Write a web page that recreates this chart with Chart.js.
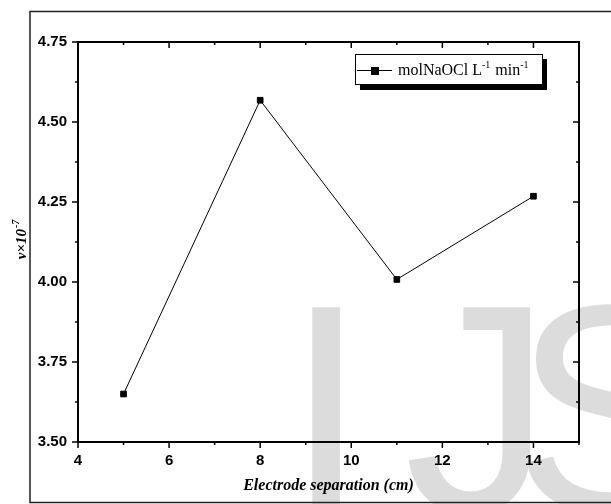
<!DOCTYPE html>
<html>
<head>
<meta charset="utf-8">
<script src="https://cdn.jsdelivr.net/npm/chart.js@4.4.0/dist/chart.umd.min.js"></script>
<style>
  html, body { margin: 0; padding: 0; background: #fff; }
  canvas { display: block; }
</style>
</head>
<body>
<canvas id="rateChart" width="611" height="504"></canvas>
<script>
// data
const separation = [5, 8, 11, 14];
const rate = [3.65, 4.568, 4.008, 4.268];
const xTicks = [4, 6, 8, 10, 12, 14];
const yTicks = [3.5, 3.75, 4.0, 4.25, 4.5, 4.75];
// legend text, [text, superscript?]
const legendParts = [["molNaOCl L", false], ["-1", true], [" min", false], ["-1", true]];
const seriesName = legendParts.map(p => p[0]).join("");

const serif = '"Liberation Serif", "Times New Roman", serif';
const sans = '"Liberation Sans", Arial, sans-serif';

// background, watermark, outer frame
const background = {
  id: "background",
  beforeDraw(chart) {
    const ctx = chart.ctx;
    ctx.save();
    ctx.fillStyle = "#fff";
    ctx.fillRect(0, 0, chart.width, chart.height);
    ctx.fillStyle = "#dcdcdc";
    ctx.font = "296px " + sans;
    ctx.textBaseline = "alphabetic";
    ctx.textAlign = "left";
    ctx.fillText("I", 285, 511);
    ctx.fillText("J", 404, 511);
    ctx.fillText("S", 513, 511);
    ctx.strokeStyle = "#222";
    ctx.lineWidth = 1.5;
    ctx.strokeRect(30, 11.5, 620, 491);
    ctx.restore();
  }
};

// box round the plot, ticks on all four sides, y title, legend
const decorations = {
  id: "decorations",
  afterDraw(chart) {
    const ctx = chart.ctx;
    const a = chart.chartArea;
    const xs = chart.scales.x, ys = chart.scales.y;
    ctx.save();
    ctx.strokeStyle = "#000";
    ctx.lineWidth = 2;
    ctx.strokeRect(a.left, a.top, a.right - a.left, a.bottom - a.top);

    ctx.lineWidth = 1.5;
    ctx.beginPath();
    xTicks.forEach(v => {
      [[v, 6], [v + 1, 3]].forEach(([t, len]) => {
        const px = xs.getPixelForValue(t);
        ctx.moveTo(px, a.bottom); ctx.lineTo(px, a.bottom + len);
        ctx.moveTo(px, a.top); ctx.lineTo(px, a.top + len);
      });
    });
    yTicks.forEach(v => {
      const list = [[v, 6]];
      if (v < ys.max) list.push([v + 0.125, 3]);
      list.forEach(([t, len]) => {
        const py = ys.getPixelForValue(t);
        ctx.moveTo(a.left, py); ctx.lineTo(a.left - len, py);
        ctx.moveTo(a.right, py); ctx.lineTo(a.right - len, py);
      });
    });
    ctx.stroke();

    // y axis title  v×10^-7
    ctx.fillStyle = "#000";
    ctx.translate(26, 240);
    ctx.rotate(-Math.PI / 2);
    ctx.font = "italic bold 15px " + serif;
    const w1 = ctx.measureText("v×10").width;
    ctx.font = "italic bold 10px " + serif;
    const w2 = ctx.measureText("-7").width;
    const start = -(w1 + w2) / 2;
    ctx.font = "italic bold 15px " + serif;
    ctx.fillText("v×10", start, 0);
    ctx.font = "italic bold 10px " + serif;
    ctx.fillText("-7", start + w1 + 1, -7);
    ctx.restore();

    // legend with shadow
    ctx.save();
    const bx = 355, by = 54, bw = 187, bh = 30;
    ctx.fillStyle = "#000";
    ctx.fillRect(bx + 5, by + 5, bw, bh + 1);
    ctx.fillStyle = "#fff";
    ctx.fillRect(bx, by, bw, bh);
    ctx.strokeStyle = "#000";
    ctx.lineWidth = 1;
    ctx.strokeRect(bx + 0.5, by + 0.5, bw, bh);
    ctx.beginPath();
    ctx.moveTo(bx + 2, by + 16.5);
    ctx.lineTo(bx + 37, by + 16.5);
    ctx.stroke();
    ctx.fillStyle = "#000";
    ctx.fillRect(bx + 16, by + 13, 8, 8);
    ctx.textBaseline = "alphabetic";
    let tx = bx + 43;
    legendParts.forEach(([txt, sup]) => {
      ctx.font = (sup ? "10px " : "16px ") + serif;
      ctx.fillText(txt, tx, sup ? by + 14 : by + 21);
      tx += ctx.measureText(txt).width + (sup ? 1 : 0);
    });
    ctx.restore();
  }
};

new Chart(document.getElementById("rateChart"), {
  type: "scatter",
  data: {
    datasets: [{
      label: seriesName,
      data: separation.map((x, i) => ({ x: x, y: rate[i] })),
      showLine: true,
      borderColor: "#000",
      borderWidth: 1,
      pointStyle: "rect",
      pointRadius: 4,
      pointBorderWidth: 1,
      pointBackgroundColor: "#000",
      pointBorderColor: "#000"
    }]
  },
  options: {
    responsive: false,
    animation: false,
    devicePixelRatio: 1,
    layout: { padding: { top: 42, right: 32, left: 0, bottom: 0 } },
    plugins: { legend: { display: false }, tooltip: { enabled: false } },
    scales: {
      x: {
        type: "linear",
        min: 4,
        max: 15,
        grid: { display: false, drawTicks: false },
        border: { display: false },
        afterBuildTicks: s => { s.ticks = xTicks.map(v => ({ value: v })); },
        afterFit: s => { s.height = 62; },
        ticks: {
          color: "#000",
          padding: 10,
          maxRotation: 0,
          font: { family: sans, size: 15, weight: "bold" }
        },
        title: {
          display: true,
          text: "Electrode separation (cm)",
          color: "#000",
          padding: { top: 0, bottom: 9 },
          font: { family: serif, size: 16, style: "italic", weight: "bold" }
        }
      },
      y: {
        min: 3.5,
        max: 4.75,
        grid: { display: false, drawTicks: false },
        border: { display: false },
        afterBuildTicks: s => { s.ticks = yTicks.map(v => ({ value: v })); },
        afterFit: s => { s.width = 78; },
        ticks: {
          color: "#000",
          padding: 11,
          font: { family: sans, size: 15, weight: "bold" },
          callback: v => Number(v).toFixed(2)
        }
      }
    }
  },
  plugins: [background, decorations]
});
</script>
</body>
</html>
